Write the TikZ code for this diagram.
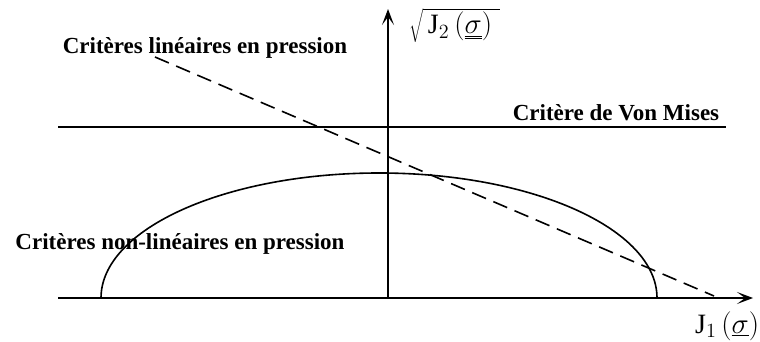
\documentclass[tikz,border=0pt]{standalone}
\usepackage{fontspec}
\setmainfont{Liberation Serif}
\usetikzlibrary{arrows.meta}
\begin{document}
\begin{tikzpicture}[x=1pt,y=-1pt, line width=1.6pt,
  lbl/.style={font=\fontsize{23}{26}\selectfont\bfseries, inner sep=0pt},
  mlbl/.style={font=\fontsize{20}{24}\selectfont, scale=1.4, inner sep=0pt, anchor=base west},
  ax/.style={-{Stealth[length=16pt,width=12pt,inset=8pt]}},
  dashline/.style={dash pattern=on 15pt off 8pt}]
\useasboundingbox (0,0) rectangle (760,342);
% axes
\coordinate (xs) at (58,298);
\coordinate (xe) at (753,298);
\coordinate (ys) at (388,298);
\coordinate (ye) at (388,9);
\draw[ax] (xs) -- (xe);
\draw[ax] (ys) -- (ye);
% Von Mises line
\coordinate (vm1) at (58,127);
\coordinate (vm2) at (726,127);
\draw (vm1) -- (vm2);
% non-linear criterion (half ellipse)
\coordinate (el1) at (101,298);
\draw (el1) arc[start angle=180, end angle=360, x radius=278, y radius=125];
% linear criterion (dashed)
\coordinate (d1) at (155,57);
\coordinate (d2) at (714,296);
\draw[dashline] (d1) -- (d2);
% labels
\node[lbl] (tlin) at (205,48) {Critères linéaires en pression};
\node[lbl] (tvm) at (616,113) {Critère de Von Mises};
\node[lbl] (tnl) at (180,244) {Critères non-linéaires en pression};
\node[mlbl] (tj2) at (408,34) {$\sqrt{\mathstrut\smash{\,\mathrm{J}_{2}\,(\underline{\underline{\sigma}})\;}}$};
\node[mlbl] (tj1) at (694,333) {$\mathrm{J}_{1}\,(\underline{\sigma})$};
\end{tikzpicture}
\end{document}
